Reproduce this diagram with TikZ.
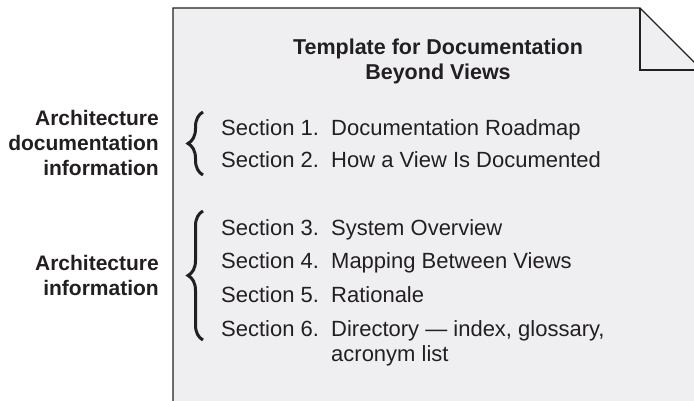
\documentclass[tikz,border=0pt]{standalone}
\usepackage{fontspec}
\setmainfont{Liberation Sans}
\usetikzlibrary{decorations.pathreplacing}
\definecolor{pagefill}{HTML}{EFEFF1}
\definecolor{ink}{HTML}{231F20}
\begin{document}
\begin{tikzpicture}[x=1pt,y=-1pt,
  pageline/.style={draw=ink, line width=1.3pt, line join=miter},
  sect/.style={anchor=base west, inner sep=0pt, text=ink,
    font=\fontsize{22}{25}\selectfont},
  lab/.style={anchor=base east, inner sep=0pt, text=ink,
    font=\fontsize{21}{25}\bfseries\selectfont},
  ttl/.style={anchor=center, inner sep=0pt, text=ink, align=center,
    font=\fontsize{21.5}{25}\bfseries\selectfont},
  bracket/.style={draw=ink, line width=3pt, decorate,
    decoration={brace, amplitude=15pt}}]
\useasboundingbox (0,0) rectangle (694,401);
\clip (0,0) rectangle (694,401);
% page with folded corner
\fill[white] (0,0) rectangle (694,401);
\path[pageline, fill=pagefill] (173,420) -- (173,8) -- (640,8) -- (702,70) -- (702,420) -- cycle;
\path[pageline] (640,8) -- (640,70) -- (702,70);
% title
\node[ttl] (title) at (438,61) {Template for Documentation\\Beyond Views};
% sections
\newcommand{\seclab}[1]{\makebox[110pt][l]{#1}}
\node[sect] (s1) at (221,136) {\seclab{Section 1.}Documentation Roadmap};
\node[sect] (s2) at (221,168) {\seclab{Section 2.}How a View Is Documented};
\node[sect] (s3) at (221,236) {\seclab{Section 3.}System Overview};
\node[sect] (s4) at (221,269) {\seclab{Section 4.}Mapping Between Views};
\node[sect] (s5) at (221,302.5) {\seclab{Section 5.}Rationale};
\node[sect] (s6) at (221,336) {\seclab{Section 6.}Directory — index, glossary,};
\node[sect] (s6b) at (331,361) {acronym list};
% left labels
\node[lab] (a1) at (159,125.5) {Architecture};
\node[lab] (a2) at (159,150.5) {documentation};
\node[lab] (a3) at (159,175.5) {information};
\node[lab] (b1) at (159,270.5) {Architecture};
\node[lab] (b2) at (159,295.5) {information};
% braces
\coordinate (br1a) at (203,175);
\coordinate (br1b) at (203,112);
\coordinate (br2a) at (203,340);
\coordinate (br2b) at (203,211);
\draw[bracket] (br1a) -- (br1b);
\draw[bracket] (br2a) -- (br2b);
\end{tikzpicture}
\end{document}
